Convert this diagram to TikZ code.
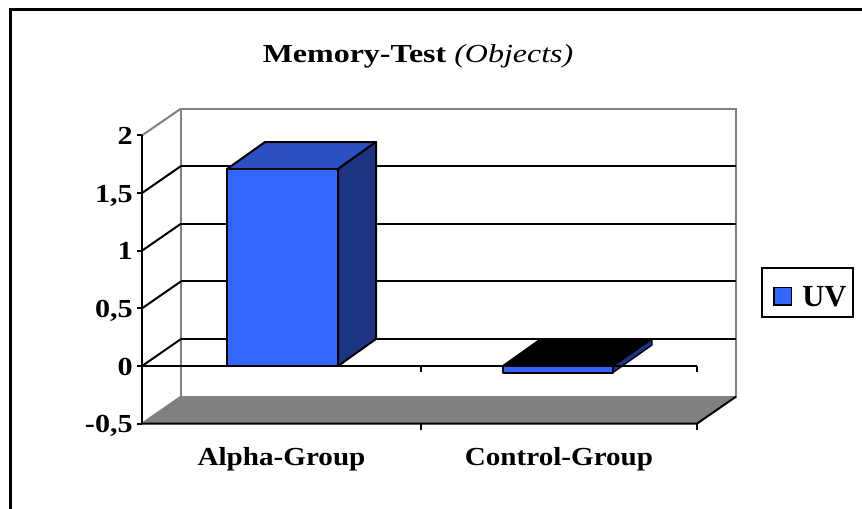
\documentclass[tikz,border=0pt]{standalone}
\usepackage{fontspec}
\setmainfont{Liberation Serif}
\definecolor{barfront}{HTML}{3366FF}
\definecolor{bartop}{HTML}{2A50C2}
\definecolor{barside}{HTML}{1C3482}
\definecolor{wallgray}{HTML}{808080}
\definecolor{floorgray}{HTML}{808080}
\begin{document}
\begin{tikzpicture}[x=0.75pt,y=-0.75pt,
  frameline/.style={draw=black,line width=2.25pt},
  wallline/.style={draw=wallgray,line width=1.5pt},
  gridline/.style={draw=black,line width=1.5pt},
  axisline/.style={draw=black,line width=1.5pt},
  face/.style={draw=black,line width=1.5pt,line join=round},
  ylab/.style={anchor=base east,inner sep=0pt,font=\fontsize{19.5}{20}\selectfont\bfseries},
  catlab/.style={anchor=base,inner sep=0pt,font=\fontsize{19.5}{20}\selectfont\bfseries},
  titlelab/.style={anchor=base,inner sep=0pt,font=\fontsize{19.5}{20}\selectfont},
  legbox/.style={draw=black,line width=1.5pt,fill=white}
]
\useasboundingbox (0,0) rectangle (862,508);

% outer frame (top and left edges)
\draw[frameline] (10,512) -- (10,9) -- (866,9);

% floor
\fill[floorgray] (142,423.6) -- (181,396.6) -- (736,396.6) -- (697,423.6) -- cycle;

% back wall outline
\draw[wallline] (181,396.6) -- (181,108.6) -- (736,108.6) -- (736,396.6) -- (181,396.6);
\draw[wallline] (142,135.4) -- (181,108.6);
\draw[wallline] (142,423.6) -- (181,396.6);

% gridlines on the back wall and side wall
\foreach \v in {0,0.5,1,1.5}{
  \draw[gridline] (181,{339-115.3*\v}) -- (736,{339-115.3*\v});
  \draw[gridline] (142,{366-115.3*\v}) -- (181,{339-115.3*\v});
}

% floor front edges
\draw[axisline] (142,423.6) -- (697,423.6) -- (736,396.6);
\draw[axisline] (421,423.6) -- (421,429.6);
\draw[axisline] (697,423.6) -- (697,429.6);

% bar: Alpha-Group
\filldraw[face,fill=bartop] (227,169) -- (265,142) -- (376,142) -- (338,169) -- cycle;
\filldraw[face,fill=barside] (338,169) -- (376,142) -- (376,339) -- (338,366) -- cycle;
\filldraw[face,fill=barfront] (227,169) rectangle (338,366);

% bar: Control-Group
\filldraw[face,fill=black] (503,366) -- (541,339) -- (652,339) -- (613,366) -- cycle;
\filldraw[face,fill=barside,line width=1pt] (613,366) -- (652,339) -- (652,345) -- (613,372.5) -- cycle;
\filldraw[face,fill=barfront] (503,366) rectangle (613,372.5);

% zero line and category ticks
\draw[axisline] (142,366) -- (697,366);
\draw[axisline] (421,366) -- (421,372);
\draw[axisline] (697,366) -- (697,372);

% value axis
\draw[axisline] (142,135.4) -- (142,423.6);
\foreach \v in {-0.5,0,0.5,1,1.5,2}{
  \draw[axisline] (137,{366-115.3*\v}) -- (142,{366-115.3*\v});
}
\node[ylab] (y2)  at (133,144.4) {\scalebox{1.16}[1]{2}};
\node[ylab] (y15) at (133,202.1) {\scalebox{1.16}[1]{1,5}};
\node[ylab] (y1)  at (133,259.7) {\scalebox{1.16}[1]{1}};
\node[ylab] (y05) at (133,317.4) {\scalebox{1.16}[1]{0,5}};
\node[ylab] (y0)  at (133,375)   {\scalebox{1.16}[1]{0}};
\node[ylab] (ym05) at (133,432.6) {\scalebox{1.16}[1]{-0,5}};

% category labels
\node[catlab] (alpha)   at (281.5,465.5) {\scalebox{1.12}[1]{Alpha-Group}};
\node[catlab] (control) at (559,465.5)   {\scalebox{1.12}[1]{Control-Group}};

% title
\node[titlelab] (title) at (418,62) {\scalebox{1.23}[1]{\textbf{Memory-Test} \textit{(Objects)}}};

% legend
\draw[legbox] (762,268) rectangle (853,317);
\filldraw[draw=black,line width=1pt,fill=barfront] (774,287.5) rectangle (791.5,305);
\node[anchor=base west,inner sep=0pt,font=\fontsize{23}{24}\selectfont\bfseries] (uv) at (802,306.5) {UV};
\end{tikzpicture}
\end{document}
